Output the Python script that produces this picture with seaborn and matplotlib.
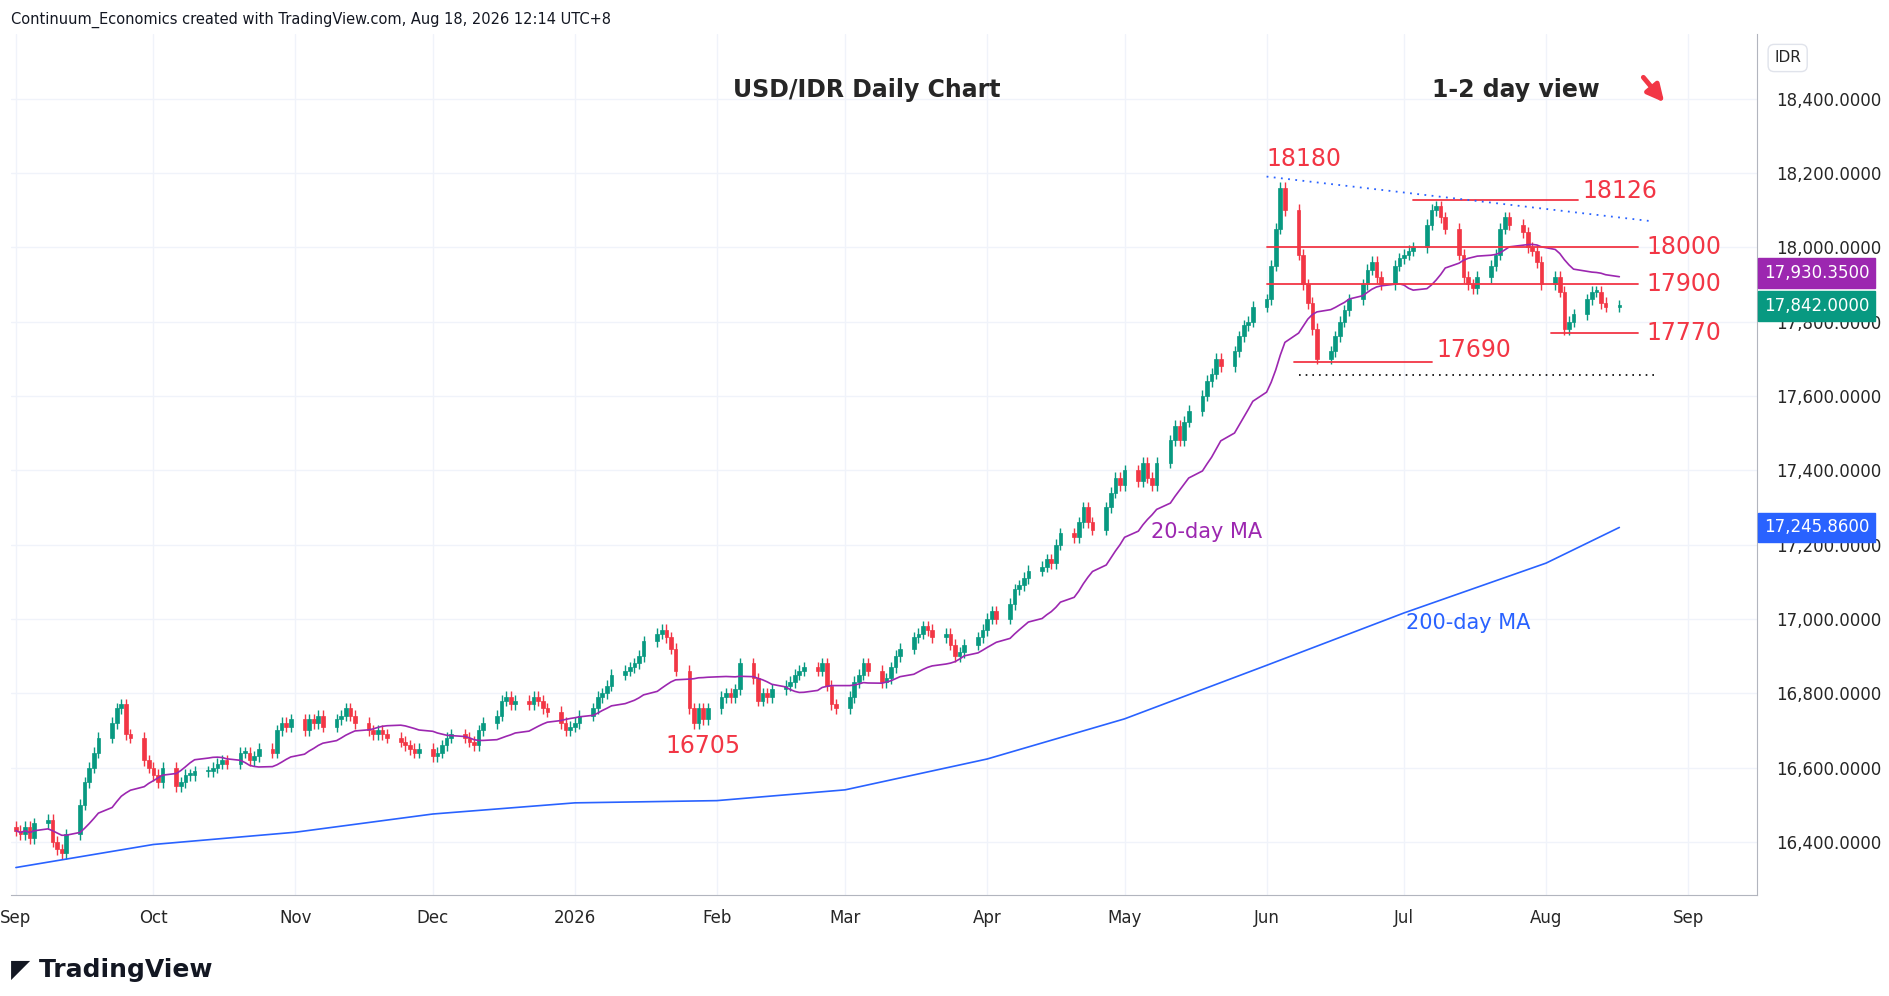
import numpy as np
import pandas as pd
import matplotlib
matplotlib.use("Agg")
import matplotlib.pyplot as plt
import matplotlib.dates as mdates
import seaborn as sns

# === Data ===
closes = [
    # Sep 2025
    16430, 16420, 16440, 16410, 16450, 16460, 16400, 16380, 16370, 16420, 16500, 16560, 16600, 16640, 16680, 16720, 16760, 16770, 16690, 16680, 16620, 16600,
    # Oct
    16580, 16560, 16600, 16550, 16560, 16580, 16580, 16590, 16590, 16600, 16610, 16620, 16610, 16640, 16640, 16620, 16630, 16650, 16640, 16700, 16720, 16710, 16730,
    # Nov
    16700, 16730, 16720, 16740, 16710, 16730, 16740, 16760, 16740, 16720, 16700, 16690, 16700, 16690, 16680, 16670, 16660, 16650, 16640, 16650,
    # Dec
    16630, 16640, 16660, 16680, 16690, 16680, 16670, 16660, 16700, 16720, 16740, 16780, 16790, 16770, 16780, 16770, 16790, 16780, 16760, 16750, 16720, 16700, 16710,
    # Jan 2026
    16720, 16740, 16760, 16790, 16800, 16820, 16850, 16860, 16870, 16880, 16900, 16940, 16960, 16970, 16950, 16920, 16860, 16760, 16720, 16760, 16730, 16760,
    # Feb
    16790, 16800, 16790, 16810, 16880, 16840, 16780, 16800, 16790, 16810, 16820, 16830, 16850, 16860, 16870, 16860, 16880, 16820, 16770, 16760,
    # Mar
    16790, 16830, 16850, 16880, 16860, 16830, 16840, 16870, 16900, 16920, 16950, 16960, 16980, 16970, 16950, 16960, 16930, 16900, 16910, 16930, 16950, 16970,
    # Apr
    17000, 17020, 17000, 17040, 17080, 17090, 17110, 17130, 17140, 17160, 17150, 17200, 17230, 17220, 17260, 17300, 17260, 17240, 17300, 17340, 17380, 17360,
    # May
    17400, 17370, 17420, 17380, 17360, 17420, 17480, 17520, 17480, 17530, 17560, 17600, 17640, 17660, 17700, 17680, 17720, 17760, 17790, 17800, 17840,
    # Jun
    17860, 17950, 18050, 18160, 18100, 17980, 17900, 17850, 17780, 17700, 17720, 17760, 17800, 17830, 17860, 17900, 17940, 17960, 17920, 17900, 17950, 17970,
    # Jul
    17980, 17990, 18000, 18060, 18100, 18110, 18080, 18050, 17980, 17920, 17900, 17890, 17920, 17950, 17980, 18050, 18080, 18060, 18040, 18000, 17990, 17960, 17900,
    # Aug
    17920, 17880, 17780, 17800, 17820, 17860, 17880, 17880, 17850, 17840, 17842,
]
ma200_dates = ["2025-09-01", "2025-10-01", "2025-11-01", "2025-12-01", "2026-01-01", "2026-02-01",
               "2026-03-01", "2026-04-01", "2026-05-01", "2026-06-01", "2026-07-01", "2026-08-01", "2026-08-17"]
ma200_vals = [16331, 16393, 16426, 16475, 16505, 16511, 16540, 16623, 16731, 16875, 17016, 17150, 17246]

dates = pd.bdate_range("2025-09-01", periods=len(closes))
df = pd.DataFrame({"date": dates, "close": closes})
df["open"] = df["close"].shift(1).fillna(df["close"].iloc[0] + 10)
df["high"] = df[["open", "close"]].max(axis=1) + 15
df["low"] = df[["open", "close"]].min(axis=1) - 15
df["ma20"] = df["close"].rolling(20, min_periods=1).mean()
ma200 = pd.DataFrame({"date": pd.to_datetime(ma200_dates), "ma": ma200_vals})

GREEN, RED, PURPLE, BLUE = "#089981", "#f23645", "#9c27b0", "#2962ff"

sns.set_style("white")
plt.rcParams["font.family"] = ["DejaVu Sans"]
fig = plt.figure(figsize=(18.89, 9.96), dpi=100)
ax = fig.add_axes([0.006, 0.101, 0.924, 0.865])

# === Candles ===
up = df["close"] >= df["open"]
colors = np.where(up, GREEN, RED)
x = mdates.date2num(df["date"])
ax.vlines(x, df["low"], df["high"], colors=colors, lw=1)
ax.bar(x, (df["close"] - df["open"]).abs().clip(lower=4), bottom=df[["open", "close"]].min(axis=1),
       width=0.8, color=colors, edgecolor=colors, lw=0.5)

sns.lineplot(data=df, x="date", y="ma20", ax=ax, color=PURPLE, lw=1.2)
sns.lineplot(data=ma200, x="date", y="ma", ax=ax, color=BLUE, lw=1.2)

# === Levels ===
d = pd.Timestamp
def hline(y, a, b, **kw):
    ax.plot([d(a), d(b)], [y, y], **kw)
hline(18126, "2026-07-03", "2026-08-08", color=RED, lw=1.3)
hline(18000, "2026-06-01", "2026-08-21", color=RED, lw=1.3)
hline(17900, "2026-06-01", "2026-08-21", color=RED, lw=1.3)
hline(17770, "2026-08-02", "2026-08-21", color=RED, lw=1.3)
hline(17690, "2026-06-07", "2026-07-07", color=RED, lw=1.3)
hline(17655, "2026-06-08", "2026-08-25", color="black", lw=1.2, ls=(0, (1, 3)))
ax.plot([d("2026-06-01"), d("2026-08-24")], [18190, 18070], color=BLUE, lw=1.3, ls=(0, (1, 3)))

lab = dict(color=RED, fontsize=17, va="center")
ax.text(d("2026-06-01"), 18205, "18180", ha="left", va="bottom", color=RED, fontsize=17)
ax.text(d("2026-08-09"), 18150, "18126", ha="left", **lab)
ax.text(d("2026-08-23"), 18000, "18000", ha="left", **lab)
ax.text(d("2026-08-23"), 17900, "17900", ha="left", **lab)
ax.text(d("2026-08-23"), 17770, "17770", ha="left", **lab)
ax.text(d("2026-07-08"), 17690, "17690", ha="left", va="bottom", color=RED, fontsize=17)
ax.text(d("2026-01-29"), 16690, "16705", ha="center", va="top", color=RED, fontsize=17)
ax.text(d("2026-05-19"), 17235, "20-day MA", ha="center", va="center", color=PURPLE, fontsize=15)
ax.text(d("2026-07-15"), 16990, "200-day MA", ha="center", va="center", color=BLUE, fontsize=15)
ax.text(0.49, 0.935, "USD/IDR Daily Chart", transform=ax.transAxes, ha="center", va="center", fontsize=17, fontweight="bold")
ax.text(0.862, 0.935, "1-2 day view", transform=ax.transAxes, ha="center", va="center", fontsize=17, fontweight="bold")
ax.annotate("", xy=(0.948, 0.918), xytext=(0.934, 0.952), xycoords="axes fraction",
            arrowprops=dict(arrowstyle="-|>", color=RED, lw=3.5, mutation_scale=25))

# === Axes ===
ax.set_xlim(d("2025-08-31"), d("2026-09-16"))
ax.set_ylim(16256, 18574)
ax.set_xlabel("")
ax.set_ylabel("")
ax.yaxis.tick_right()
yt = np.arange(16400, 18401, 200)
ax.set_yticks(yt)
ax.set_yticklabels([f"{v:,.4f}" for v in yt], fontsize=12)
ax.grid(True, color="#f0f3fa", lw=1)
ticks = pd.to_datetime(["2025-09-01", "2025-10-01", "2025-11-01", "2025-12-01", "2026-01-01", "2026-02-01",
                        "2026-03-01", "2026-04-01", "2026-05-01", "2026-06-01", "2026-07-01", "2026-08-01", "2026-09-01"])
ax.set_xticks(ticks)
ax.set_xticklabels(["Sep", "Oct", "Nov", "Dec", "2026", "Feb", "Mar", "Apr", "May", "Jun", "Jul", "Aug", "Sep"], fontsize=12)
ax.tick_params(axis="y", length=0, pad=14)
ax.tick_params(axis="x", length=0, pad=10)
for s in ["top", "left"]:
    ax.spines[s].set_visible(False)
for s in ["right", "bottom"]:
    ax.spines[s].set_color("#b2b5be")

def price_box(y, text, fc):
    ax.text(1.004, (y - 16256) / (18574 - 16256), text, transform=ax.transAxes, ha="left", va="center",
            fontsize=12, color="white", bbox=dict(boxstyle="square,pad=0.35", fc=fc, ec=fc))
price_box(17930.35, "17,930.3500", PURPLE)
price_box(17842, "17,842.0000", GREEN)
price_box(17245.86, "17,245.8600", BLUE)
ax.text(1.01, 0.972, "IDR", transform=ax.transAxes, ha="left", va="center", fontsize=11,
        bbox=dict(boxstyle="round,pad=0.4", fc="white", ec="#e0e3eb"))

fig.text(0.006, 0.98, "Continuum_Economics created with TradingView.com, Aug 18, 2026 12:14 UTC+8",
         fontsize=10.5, color="#131722", va="center")
fig.text(0.006, 0.026, "\u25e4 TradingView", fontsize=18, fontweight="bold", color="#131722", va="center")

fig.savefig("out.png", dpi=100, facecolor="white")
